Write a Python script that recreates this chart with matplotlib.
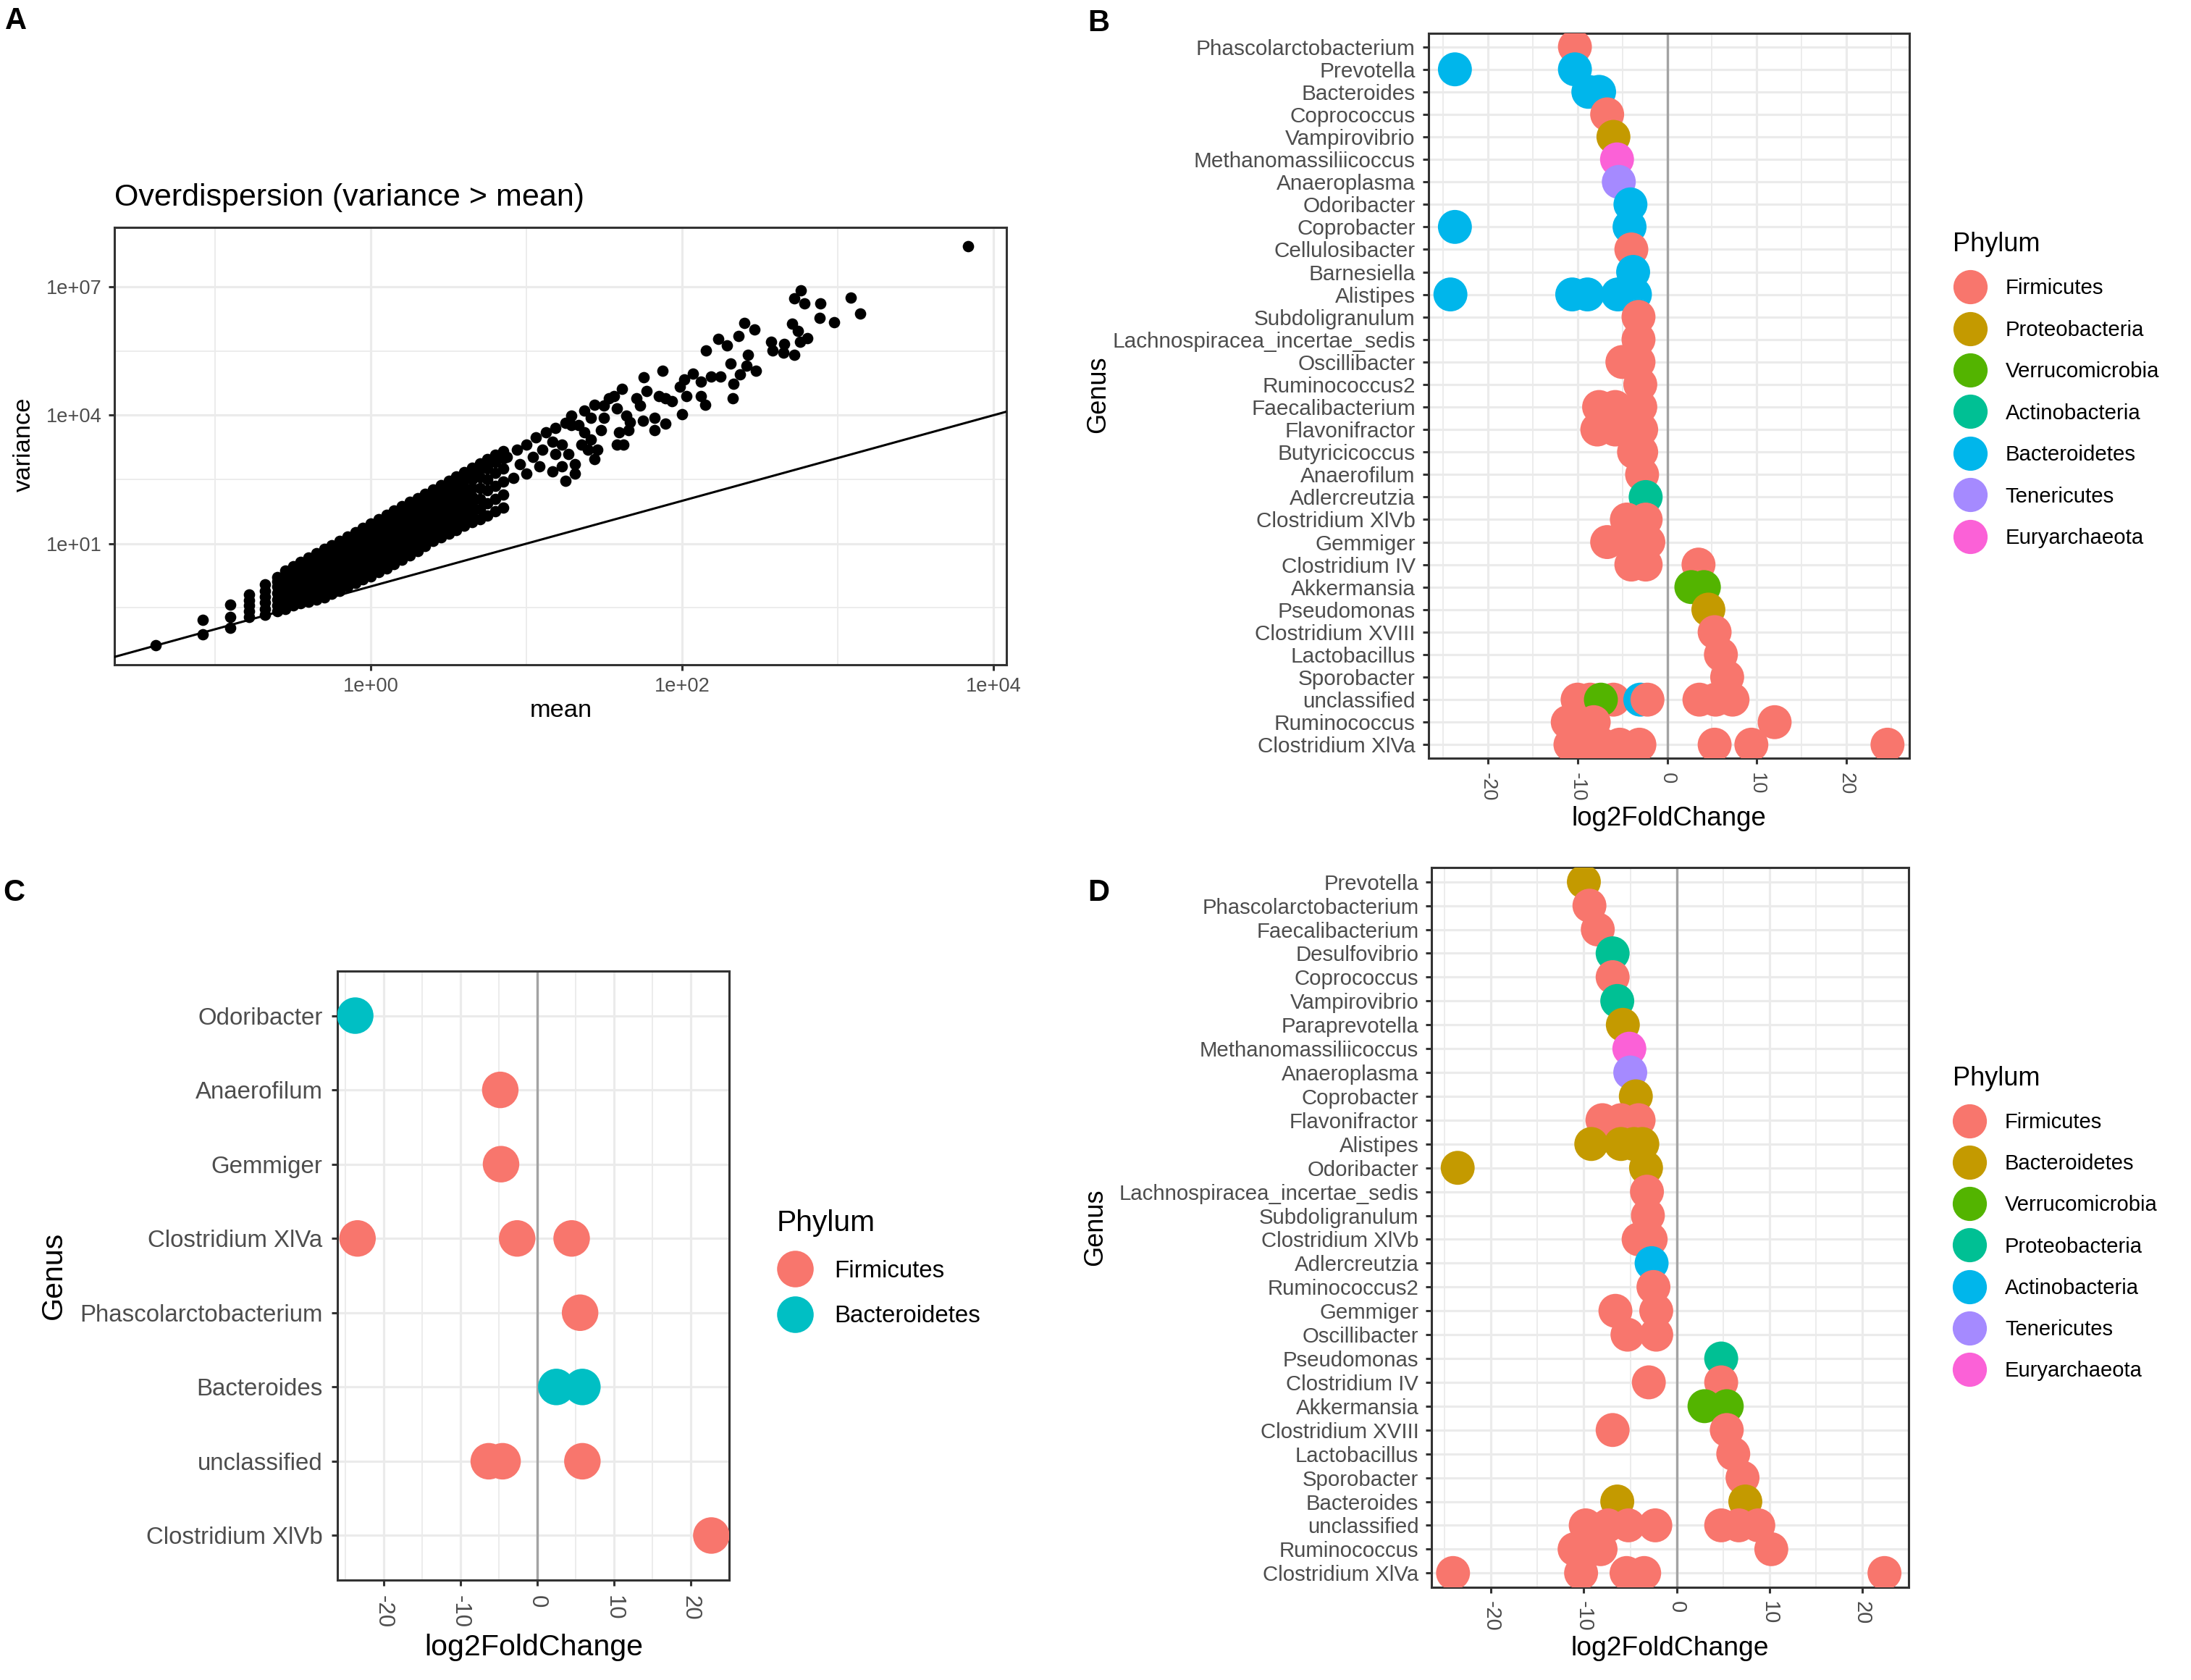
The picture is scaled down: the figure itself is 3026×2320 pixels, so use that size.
import numpy as np
import matplotlib.pyplot as plt
from matplotlib.lines import Line2D

plt.rcParams['font.family'] = ['Liberation Sans', 'DejaVu Sans']

W, H = 3026, 2320
DPI = 200

# ---------------- data ----------------
# panel A: log10(mean) columns and log10(variance) values read off the cloud
a_col_mean = [-1.38, -1.08, -0.905, -0.78, -0.68, -0.60, -0.55, -0.50, -0.45, -0.40,
              -0.35, -0.30, -0.25, -0.20, -0.15, -0.10, -0.05, 0.00, 0.05, 0.10,
              0.15, 0.20, 0.25, 0.30, 0.35, 0.40, 0.45, 0.50, 0.55, 0.60,
              0.65, 0.70, 0.75, 0.80, 0.85]
a_col_var = [
    [-1.38],
    [-1.12, -0.78],
    [-0.97, -0.715, -0.43],
    [-0.72, -0.58, -0.45, -0.32, -0.19],
    [-0.66, -0.52, -0.38, -0.24, -0.10, 0.04],
    [-0.58, -0.44, -0.30, -0.15, 0.00, 0.12, 0.21],
    [-0.53, -0.38, -0.23, -0.08, 0.07, 0.22, 0.37],
    [-0.45, -0.30, -0.15, 0.00, 0.15, 0.30, 0.47],
    [-0.40, -0.25, -0.10, 0.05, 0.20, 0.35, 0.50, 0.57],
    [-0.36, -0.21, -0.06, 0.09, 0.24, 0.39, 0.54, 0.67],
    [-0.31, -0.16, -0.01, 0.14, 0.29, 0.44, 0.59, 0.77],
    [-0.26, -0.11, 0.04, 0.19, 0.34, 0.49, 0.64, 0.79, 0.87],
    [-0.18, -0.03, 0.12, 0.27, 0.42, 0.57, 0.72, 0.87, 0.97],
    [-0.10, 0.05, 0.20, 0.35, 0.50, 0.65, 0.80, 0.95, 1.07],
    [0.00, 0.15, 0.30, 0.45, 0.60, 0.75, 0.90, 1.05, 1.17],
    [0.08, 0.23, 0.38, 0.53, 0.68, 0.83, 0.98, 1.13, 1.27],
    [0.16, 0.31, 0.46, 0.61, 0.76, 0.91, 1.06, 1.21, 1.37],
    [0.24, 0.39, 0.54, 0.69, 0.84, 0.99, 1.14, 1.29, 1.47],
    [0.33, 0.48, 0.63, 0.78, 0.93, 1.08, 1.23, 1.38, 1.57],
    [0.42, 0.57, 0.72, 0.87, 1.02, 1.17, 1.32, 1.47, 1.60, 1.67],
    [0.52, 0.67, 0.82, 0.97, 1.12, 1.27, 1.42, 1.57, 1.70, 1.77],
    [0.62, 0.77, 0.92, 1.07, 1.22, 1.37, 1.52, 1.67, 1.80, 1.87],
    [0.72, 0.87, 1.02, 1.17, 1.32, 1.47, 1.62, 1.77, 1.90, 1.97],
    [0.82, 0.97, 1.12, 1.27, 1.42, 1.57, 1.72, 1.87, 2.00, 2.07],
    [0.94, 1.09, 1.24, 1.39, 1.54, 1.69, 1.84, 1.99, 2.10, 2.17],
    [1.06, 1.21, 1.36, 1.51, 1.66, 1.81, 1.96, 2.11, 2.20, 2.27],
    [1.15, 1.30, 1.45, 1.60, 1.75, 1.90, 2.05, 2.20, 2.30, 2.37],
    [1.24, 1.39, 1.54, 1.69, 1.84, 1.99, 2.14, 2.29, 2.40, 2.47],
    [1.32, 1.47, 1.62, 1.77, 1.92, 2.07, 2.22, 2.37, 2.50, 2.57],
    [1.42, 1.60, 1.78, 1.96, 2.14, 2.32, 2.50, 2.67],
    [1.50, 1.70, 1.90, 2.10, 2.30, 2.50, 2.65, 2.77],
    [1.57, 1.80, 2.05, 2.30, 2.55, 2.75, 2.87],
    [1.65, 1.95, 2.25, 2.50, 2.75, 2.97],
    [1.75, 2.05, 2.35, 2.65, 2.90, 3.07],
    [1.85, 2.15, 2.45, 2.75, 3.00, 3.17],
]
# sparse upper tail (log10 mean, log10 variance)
a_tail_mean = [3.838, 2.761, 2.72, 2.784, 2.888, 3.083, 3.146, 2.882, 2.979, 2.705,
               2.746, 2.805, 2.757, 2.657, 2.57, 2.58, 2.653, 2.72, 2.399, 2.466,
               2.362, 2.233, 2.289, 2.152, 2.424, 2.31, 2.414, 2.476, 2.372, 2.33,
               2.324, 2.247, 2.185, 2.123, 2.07, 2.015, 1.988, 2.15, 2.12, 2.03,
               1.998, 1.936, 1.873, 1.894, 1.852, 1.755, 1.77, 1.707, 1.728, 1.894,
               1.821, 1.821, 1.748, 1.665, 1.613, 1.561, 1.53, 1.582, 1.644, 1.593,
               1.655, 1.499, 1.437, 1.374, 1.416, 1.499, 1.478, 1.582, 1.624, 1.29,
               1.29, 1.333, 1.374, 1.416, 1.457, 1.353, 1.25, 1.187, 1.125, 1.062,
               1.0, 0.94, 0.875, 1.166, 1.229, 1.104, 1.042, 1.187, 1.27, 1.31,
               1.229, 1.166, 1.083, 1.31, 1.25, 1.437, 1.395, 0.958, 1.0, 0.917]
a_tail_var = [7.95, 6.915, 6.73, 6.61, 6.62, 6.75, 6.37, 6.28, 6.17, 6.14,
              5.97, 5.80, 5.72, 5.66, 5.72, 5.52, 5.46, 5.42, 6.16, 6.0,
              5.86, 5.79, 5.63, 5.51, 5.42, 5.21, 5.15, 5.04, 4.95, 4.73,
              4.39, 4.90, 4.90, 4.79, 4.98, 4.84, 4.67, 4.24, 4.45, 4.45,
              4.02, 4.33, 5.04, 4.39, 4.45, 4.89, 4.56, 4.39, 4.22, 3.80,
              3.66, 3.94, 3.88, 3.83, 4.62, 4.45, 4.39, 4.16, 3.99, 3.60,
              3.66, 4.22, 4.25, 4.11, 3.94, 3.94, 3.66, 3.32, 3.32, 3.99,
              3.77, 3.77, 3.60, 3.43, 3.20, 3.32, 3.82, 3.71, 3.60, 3.49,
              3.32, 3.20, 3.03, 3.38, 3.32, 3.20, 3.03, 3.09, 3.09, 2.86,
              2.81, 2.69, 2.81, 2.64, 2.47, 2.98, 3.20, 2.86, 2.64, 2.53]

phylum_names = {'Fi': 'Firmicutes', 'Ba': 'Bacteroidetes', 'Pr': 'Proteobacteria',
                'Ve': 'Verrucomicrobia', 'Ac': 'Actinobacteria', 'Te': 'Tenericutes',
                'Eu': 'Euryarchaeota'}
hue7 = ['#F8766D', '#C49A00', '#53B400', '#00C094', '#00B6EB', '#A58AFF', '#FB61D7']
hue2 = ['#F8766D', '#00BFC4']

# panel B
b_levels = ['Fi', 'Pr', 'Ve', 'Ac', 'Ba', 'Te', 'Eu']
b_genera = ['Phascolarctobacterium', 'Prevotella', 'Bacteroides', 'Coprococcus', 'Vampirovibrio',
            'Methanomassiliicoccus', 'Anaeroplasma', 'Odoribacter', 'Coprobacter', 'Cellulosibacter',
            'Barnesiella', 'Alistipes', 'Subdoligranulum', 'Lachnospiracea_incertae_sedis',
            'Oscillibacter', 'Ruminococcus2', 'Faecalibacterium', 'Flavonifractor', 'Butyricicoccus',
            'Anaerofilum', 'Adlercreutzia', 'Clostridium XlVb', 'Gemmiger', 'Clostridium IV',
            'Akkermansia', 'Pseudomonas', 'Clostridium XVIII', 'Lactobacillus', 'Sporobacter',
            'unclassified', 'Ruminococcus', 'Clostridium XlVa']
b_lfc = [
    [-10.3],
    [-23.7, -10.3],
    [-8.8, -7.6],
    [-6.7],
    [-6.0],
    [-5.6],
    [-5.4],
    [-4.1],
    [-23.7, -4.2],
    [-4.0],
    [-3.8],
    [-24.2, -10.6, -8.9, -5.5, -3.6],
    [-3.2],
    [-3.2],
    [-5.0, -3.2],
    [-3.0],
    [-7.6, -5.8, -3.0],
    [-7.8, -5.8, -2.9],
    [-3.7, -2.9],
    [-2.8],
    [-2.4],
    [-4.5, -2.4],
    [-6.7, -3.8, -2.1],
    [-4.0, -2.4, 3.5],
    [2.7, 4.1],
    [4.6],
    [5.3],
    [6.0],
    [6.7],
    [-10.0, -8.6, -6.0, -7.4, -3.0, -2.2, 3.6, 5.4, 7.3],
    [-11.1, -8.2, 12.0],
    [-10.8, -9.0, -7.3, -5.3, -3.1, 5.3, 9.4, 24.6],
]
b_phy = [
    ['Fi'],
    ['Ba', 'Ba'],
    ['Ba', 'Ba'],
    ['Fi'],
    ['Pr'],
    ['Eu'],
    ['Te'],
    ['Ba'],
    ['Ba', 'Ba'],
    ['Fi'],
    ['Ba'],
    ['Ba', 'Ba', 'Ba', 'Ba', 'Ba'],
    ['Fi'],
    ['Fi'],
    ['Fi', 'Fi'],
    ['Fi'],
    ['Fi', 'Fi', 'Fi'],
    ['Fi', 'Fi', 'Fi'],
    ['Fi', 'Fi'],
    ['Fi'],
    ['Ac'],
    ['Fi', 'Fi'],
    ['Fi', 'Fi', 'Fi'],
    ['Fi', 'Fi', 'Fi'],
    ['Ve', 'Ve'],
    ['Pr'],
    ['Fi'],
    ['Fi'],
    ['Fi'],
    ['Fi', 'Fi', 'Fi', 'Ve', 'Ba', 'Fi', 'Fi', 'Fi', 'Fi'],
    ['Fi', 'Fi', 'Fi'],
    ['Fi', 'Fi', 'Fi', 'Fi', 'Fi', 'Fi', 'Fi', 'Fi'],
]

# panel C
c_levels = ['Fi', 'Ba']
c_genera = ['Odoribacter', 'Anaerofilum', 'Gemmiger', 'Clostridium XlVa',
            'Phascolarctobacterium', 'Bacteroides', 'unclassified', 'Clostridium XlVb']
c_lfc = [[-23.7], [-4.8], [-4.7], [-23.4, -2.6, 4.5], [5.6], [2.5, 5.9], [-6.3, -4.5, 5.9], [22.7]]
c_phy = [['Ba'], ['Fi'], ['Fi'], ['Fi', 'Fi', 'Fi'], ['Fi'], ['Ba', 'Ba'], ['Fi', 'Fi', 'Fi'], ['Fi']]

# panel D
d_levels = ['Fi', 'Ba', 'Ve', 'Pr', 'Ac', 'Te', 'Eu']
d_genera = ['Prevotella', 'Phascolarctobacterium', 'Faecalibacterium', 'Desulfovibrio', 'Coprococcus',
            'Vampirovibrio', 'Paraprevotella', 'Methanomassiliicoccus', 'Anaeroplasma', 'Coprobacter',
            'Flavonifractor', 'Alistipes', 'Odoribacter', 'Lachnospiracea_incertae_sedis',
            'Subdoligranulum', 'Clostridium XlVb', 'Adlercreutzia', 'Ruminococcus2', 'Gemmiger',
            'Oscillibacter', 'Pseudomonas', 'Clostridium IV', 'Akkermansia', 'Clostridium XVIII',
            'Lactobacillus', 'Sporobacter', 'Bacteroides', 'unclassified', 'Ruminococcus',
            'Clostridium XlVa']
d_lfc = [
    [-10.0],
    [-9.4],
    [-8.5],
    [-6.9],
    [-6.9],
    [-6.4],
    [-5.8],
    [-5.1],
    [-5.0],
    [-4.4],
    [-8.0, -6.0, -4.1],
    [-9.2, -6.0, -4.6, -3.7],
    [-23.6, -3.3],
    [-3.2],
    [-3.1],
    [-4.1, -2.8],
    [-2.7],
    [-2.5],
    [-6.6, -2.2],
    [-5.3, -2.2],
    [4.8],
    [-3.0, 4.8],
    [3.0, 5.4],
    [-6.9, 5.4],
    [6.1],
    [7.1],
    [-6.4, 7.4],
    [-9.8, -7.4, -5.2, -2.3, 4.8, 6.7, 8.8],
    [-11.0, -8.2, 10.2],
    [-24.1, -10.3, -5.4, -3.5, 22.4],
]
d_phy = [
    ['Ba'], ['Fi'], ['Fi'], ['Pr'], ['Fi'], ['Pr'], ['Ba'], ['Eu'], ['Te'], ['Ba'],
    ['Fi', 'Fi', 'Fi'],
    ['Ba', 'Ba', 'Ba', 'Ba'],
    ['Ba', 'Ba'],
    ['Fi'], ['Fi'],
    ['Fi', 'Fi'],
    ['Ac'], ['Fi'],
    ['Fi', 'Fi'],
    ['Fi', 'Fi'],
    ['Pr'],
    ['Fi', 'Fi'],
    ['Ve', 'Ve'],
    ['Fi', 'Fi'],
    ['Fi'], ['Fi'],
    ['Ba', 'Ba'],
    ['Fi'] * 7,
    ['Fi'] * 3,
    ['Fi'] * 5,
]

# ---------------- helpers ----------------
def fx(px):
    return px / W


def fy(py):
    return 1 - py / H


def rect(l, r, t, b):
    return [fx(l), fy(b), fx(r) - fx(l), fy(t) - fy(b)]


GRID = '#EBEBEB'
BORDER = '#333333'
TICKTXT = '#4D4D4D'

fig = plt.figure(figsize=(W / DPI, H / DPI), dpi=DPI)


def style_axes(ax, lab_size, pad_x, pad_y):
    for s in ax.spines.values():
        s.set_color(BORDER)
        s.set_linewidth(1.1)
    ax.tick_params(which='major', length=2.75, width=1.1, color=BORDER,
                   labelcolor=TICKTXT, labelsize=lab_size)
    ax.tick_params(axis='x', which='major', pad=pad_x)
    ax.tick_params(axis='y', which='major', pad=pad_y)
    ax.tick_params(which='minor', length=0)
    ax.grid(which='major', color=GRID, lw=1.15, zorder=0)
    ax.grid(which='minor', color=GRID, lw=0.65, zorder=0)
    ax.set_axisbelow(True)


def lfc_panel(ax, genera, lfc, phy, levels, colors, msize, tick_size, xtick_size, pad_x, pad_y):
    cmap = dict(zip(levels, colors))
    xs, ys, cs = [], [], []
    for i, g in enumerate(genera):
        for v, p in zip(lfc[i], phy[i]):
            xs.append(v)
            ys.append(i)
            cs.append(cmap[p])
    allv = [v for row in lfc for v in row]
    lo, hi = min(allv), max(allv)
    ex = 0.05 * (hi - lo)
    ax.set_xlim(lo - ex, hi + ex)
    n = len(genera)
    ax.set_ylim(n - 1 + 0.6, -0.6)
    ax.axvline(0, color='#A3A3A3', lw=1.2, zorder=1)
    ax.scatter(xs, ys, s=msize, c=cs, linewidths=0, zorder=3)
    ax.set_yticks(range(n), genera)
    ax.set_xticks([-20, -10, 0, 10, 20], ['-20', '-10', '0', '10', '20'],
                  rotation=270, ha='center', va='top')
    ax.set_xticks([-25, -15, -5, 5, 15, 25], minor=True)
    style_axes(ax, tick_size, pad_x, pad_y)
    ax.tick_params(axis='x', labelsize=xtick_size)


def add_legend(levels, colors, names_map, left, top, fs, tfs, msize, hlen, htp, lsp):
    handles = [Line2D([], [], ls='', marker='o', markersize=msize, markerfacecolor=c,
                      markeredgewidth=0) for c in colors]
    labels = [names_map[k] for k in levels]
    leg = fig.legend(handles, labels, title='Phylum', loc='upper left',
                     bbox_to_anchor=(fx(left), fy(top)), frameon=False, fontsize=fs,
                     title_fontsize=tfs, borderpad=0, borderaxespad=0, handlelength=hlen,
                     handletextpad=htp, labelspacing=lsp, alignment='left')
    for t in leg.get_texts():
        t.set_color('black')
    return leg


# ---------------- panel A ----------------
axA = fig.add_axes(rect(158, 1390, 314, 918))
ax_mean = []
ax_var = []
for m, col in zip(a_col_mean, a_col_var):
    for v in col:
        ax_mean.append(10 ** m)
        ax_var.append(10 ** v)
ax_mean += [10 ** m for m in a_tail_mean]
ax_var += [10 ** v for v in a_tail_var]
axA.set_xscale('log')
axA.set_yscale('log')
axA.scatter(ax_mean, ax_var, s=32, c='black', linewidths=0, zorder=3)
axA.set_xlim(10 ** -1.647, 10 ** 4.084)
axA.set_ylim(10 ** -1.83, 10 ** 8.39)
axA.axline((1, 1), (10, 10), color='black', lw=1.1, zorder=4)
axA.set_xticks([1, 100, 1e4], ['1e+00', '1e+02', '1e+04'])
axA.set_xticks([0.1, 10, 1000], minor=True)
axA.set_yticks([10, 1e4, 1e7], ['1e+01', '1e+04', '1e+07'])
axA.set_yticks([10 ** -0.5, 10 ** 2.5, 10 ** 5.5], minor=True)
axA.xaxis.set_minor_formatter(plt.NullFormatter())
axA.yaxis.set_minor_formatter(plt.NullFormatter())
style_axes(axA, 9.8, 3.2, 3.6)
fig.text(fx(158), fy(273), 'Overdispersion (variance > mean)', fontsize=15.5,
         ha='left', va='center')
fig.text(fx(775), fy(982), 'mean', fontsize=12.4, ha='center', va='center')
fig.text(fx(33), fy(614), 'variance', fontsize=12.4, ha='center', va='center', rotation=90)

# ---------------- panel B ----------------
axB = fig.add_axes(rect(1973, 2637, 46, 1047))
lfc_panel(axB, b_genera, b_lfc, b_phy, b_levels, hue7, 285, 10.7, 9.8, 4.6, 3.8)
fig.text(fx(2305), fy(1131), 'log2FoldChange', fontsize=13.2, ha='center', va='center')
fig.text(fx(1517), fy(545), 'Genus', fontsize=13, ha='center', va='center', rotation=90)
add_legend(b_levels, hue7, phylum_names, 2697, 320, 10.6, 13, 17, 1.6, 0.87, 1.0)

# ---------------- panel C ----------------
axC = fig.add_axes(rect(466, 1007, 1341, 2182))
lfc_panel(axC, c_genera, c_lfc, c_phy, c_levels, hue2, 330, 11.9, 11.2, 4.8, 4.6)
fig.text(fx(737), fy(2275), 'log2FoldChange', fontsize=14.8, ha='center', va='center')
fig.text(fx(74), fy(1761), 'Genus', fontsize=14.8, ha='center', va='center', rotation=90)
add_legend(c_levels, hue2, phylum_names, 1073, 1670, 11.9, 14.7, 18.2, 1.51, 0.88, 0.96)

# ---------------- panel D ----------------
axD = fig.add_axes(rect(1977, 2636, 1198, 2192))
lfc_panel(axD, d_genera, d_lfc, d_phy, d_levels, hue7, 285, 10.6, 10.4, 4.2, 3.6)
fig.text(fx(2306), fy(2277), 'log2FoldChange', fontsize=13.4, ha='center', va='center')
fig.text(fx(1513), fy(1695), 'Genus', fontsize=13, ha='center', va='center', rotation=90)
add_legend(d_levels, hue7, phylum_names, 2697, 1472, 10.5, 13, 17, 1.6, 0.87, 1.0)

# panel letters
for lab, x, y in [('A', 22, 29), ('B', 1517, 32), ('C', 19, 1233), ('D', 1517, 1233)]:
    fig.text(fx(x), fy(y), lab, fontsize=15, fontweight='bold', ha='center', va='center')

fig.savefig('out.png', dpi=DPI)
